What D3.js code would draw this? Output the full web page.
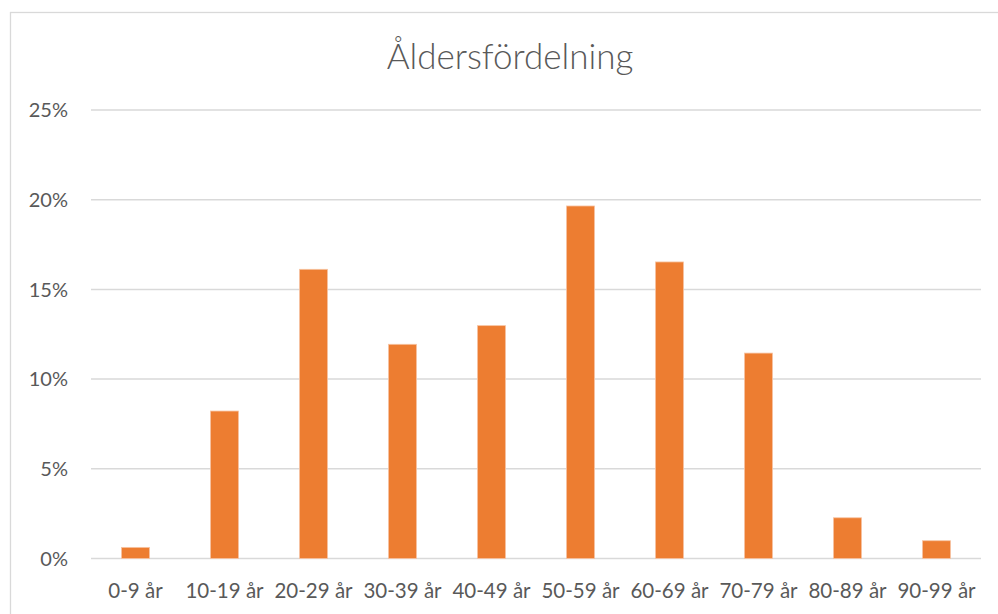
<!DOCTYPE html>
<html>
<head>
<meta charset="utf-8">
<script src="https://cdn.jsdelivr.net/npm/d3@7"></script>
<style>
  body { margin: 0; background: #fff; }
  text { font-family: Lato, "Open Sans", sans-serif; fill: #595959; }
</style>
</head>
<body>
<div id="chart"></div>
<script>
// chart data
const title = "Åldersfördelning";
const categories = ["0-9 år", "10-19 år", "20-29 år", "30-39 år", "40-49 år",
  "50-59 år", "60-69 år", "70-79 år", "80-89 år", "90-99 år"];
const shares = [0.62, 8.22, 16.12, 11.94, 12.98, 19.65, 16.53, 11.45, 2.27, 0.99];
const yTicks = [0, 5, 10, 15, 20, 25];

const width = 998;
const height = 614;
const plot = { left: 91, right: 981, top: 110, bottom: 558.5 };

const svg = d3.select("#chart").append("svg")
  .attr("width", width)
  .attr("height", height);

// outer chart border
svg.append("rect")
  .attr("x", 10.5)
  .attr("y", 12.5)
  .attr("width", 1000)
  .attr("height", 700)
  .attr("fill", "none")
  .attr("stroke", "#d9d9d9")
  .attr("stroke-width", 1.3);

const x = d3.scaleBand()
  .domain(categories)
  .range([plot.left, plot.right])
  .paddingInner(0.685)
  .paddingOuter(0.3425);

const y = d3.scaleLinear()
  .domain([0, 25])
  .range([plot.bottom, plot.top]);

// gridlines
svg.append("g")
  .selectAll("line")
  .data(yTicks)
  .join("line")
  .attr("x1", plot.left)
  .attr("x2", plot.right)
  .attr("y1", d => y(d))
  .attr("y2", d => y(d))
  .attr("stroke", "#d9d9d9")
  .attr("stroke-width", 1.5);

// y labels
svg.append("g")
  .selectAll("text")
  .data(yTicks)
  .join("text")
  .attr("x", 68)
  .attr("y", d => y(d))
  .attr("dy", "0.36em")
  .attr("text-anchor", "end")
  .attr("font-size", "20px")
  .text(d => d + "%");

// bars
svg.append("g")
  .selectAll("rect")
  .data(shares)
  .join("rect")
  .attr("x", (d, i) => x(categories[i]))
  .attr("width", x.bandwidth())
  .attr("y", d => y(d))
  .attr("height", d => y(0) - y(d))
  .attr("fill", "#ed7d31")
  .attr("stroke", "#f7c4a3")
  .attr("stroke-width", 0.8);

// category labels
svg.append("g")
  .selectAll("text")
  .data(categories)
  .join("text")
  .attr("x", d => x(d) + x.bandwidth() / 2)
  .attr("y", 598)
  .attr("text-anchor", "middle")
  .attr("font-size", "20.5px")
  .text(d => d);

// title
svg.append("text")
  .attr("x", 510)
  .attr("y", 69)
  .attr("text-anchor", "middle")
  .attr("font-size", "35px")
  .attr("font-weight", 300)
  .text(title);
</script>
</body>
</html>
